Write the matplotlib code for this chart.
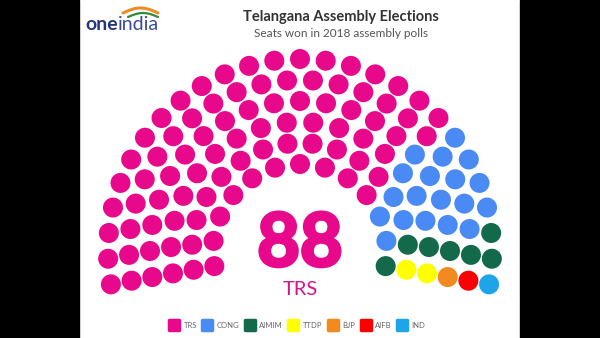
import numpy as np
import matplotlib.pyplot as plt
import matplotlib.patheffects as pe
from matplotlib.patches import Circle, Rectangle
from matplotlib.lines import Line2D
from matplotlib.markers import MarkerStyle

plt.rcParams['font.family'] = ['Lato', 'DejaVu Sans']

# seats won, 2018 Telangana assembly polls
parties = ['TRS', 'CONG', 'AIMIM', 'TTDP', 'BJP', 'AIFB', 'IND']
seats = [88, 19, 7, 2, 1, 1, 1]
colors = ['#e8088c', '#4a8af4', '#126a4a', '#ffff00', '#f28a20', '#fb0000', '#1ea5e9']

title = 'Telangana Assembly Elections'
subtitle = 'Seats won in 2018 assembly polls'
winner = 'TRS'

# half-circle layout (pixel units)
n_rows = 6
r_in, r_out = 87, 192
cx, cy = 300, 251
dot_r = 10
start, end = np.radians(-190), np.radians(10)

radii = np.linspace(r_in, r_out, n_rows)
total = sum(seats)
share = total * radii / radii.sum()
counts = np.floor(share).astype(int)
rest = total - counts.sum()
counts[np.argsort(-(share - counts))[:rest]] += 1

slots = []
for r, n in zip(radii, counts):
    for a in np.linspace(start, end, n):
        slots.append((round(a, 6), r))
slots.sort()
seat_colors = np.repeat(colors, seats)

fig = plt.figure(figsize=(6, 3.38), dpi=100)
ax = fig.add_axes([0, 0, 1, 1])
ax.set_xlim(0, 600)
ax.set_ylim(338, 0)
ax.axis('off')

# video frame bars
ax.add_patch(Rectangle((0, 0), 79, 338, color='black'))
ax.add_patch(Rectangle((520, 0), 80, 338, color='black'))

for (a, r), c in zip(slots, seat_colors):
    ax.add_patch(Circle((cx + r * np.cos(a), cy + r * np.sin(a)), dot_r, color=c, lw=0))

# big number for the winner
ax.text(cx, 266, str(seats[0]), ha='center', va='baseline', fontsize=53,
        fontweight='bold', color=colors[0],
        path_effects=[pe.withStroke(linewidth=2.5, foreground=colors[0])])
ax.text(cx, 295, winner, ha='center', va='baseline', fontsize=14.5, color='#d3168c')

# titles
ax.text(341, 21, title, ha='center', va='baseline', fontsize=10.5,
        fontweight='bold', color='#333333')
ax.text(341, 37, subtitle, ha='center', va='baseline', fontsize=8.5, color='#555555')

# logo
t1 = ax.text(85, 30, 'one', ha='left', va='baseline', fontsize=14,
             fontweight='bold', color='#26347a')
ax.annotate('india', xy=(1, 0), xycoords=t1, ha='left', va='bottom',
            fontsize=14, color='#3a4a98')
xs = np.linspace(123, 158, 30)
ax.plot(xs, 13 - 5 * np.sin(np.pi * (xs - 123) / 35), color='#f08a24', lw=2.2,
        solid_capstyle='round')
xs = np.linspace(128, 158, 30)
ax.plot(xs, 17 - 4 * np.sin(np.pi * (xs - 128) / 30), color='#2e8b3a', lw=1.6,
        solid_capstyle='round')

# legend
handles = [Line2D([], [], ls='', marker=MarkerStyle('s', joinstyle='round'),
                  markersize=6.5, markerfacecolor=c, markeredgecolor=c,
                  markeredgewidth=2.5) for c in colors]
leg = fig.legend(handles, parties, loc='center', bbox_to_anchor=(297 / 600, 1 - 325 / 338),
                 ncol=len(parties), frameon=False, fontsize=5.5, handletextpad=0.5,
                 columnspacing=0.7, handlelength=1.4)
for t in leg.get_texts():
    t.set_color('#666666')

plt.savefig('out.png', dpi=100)
